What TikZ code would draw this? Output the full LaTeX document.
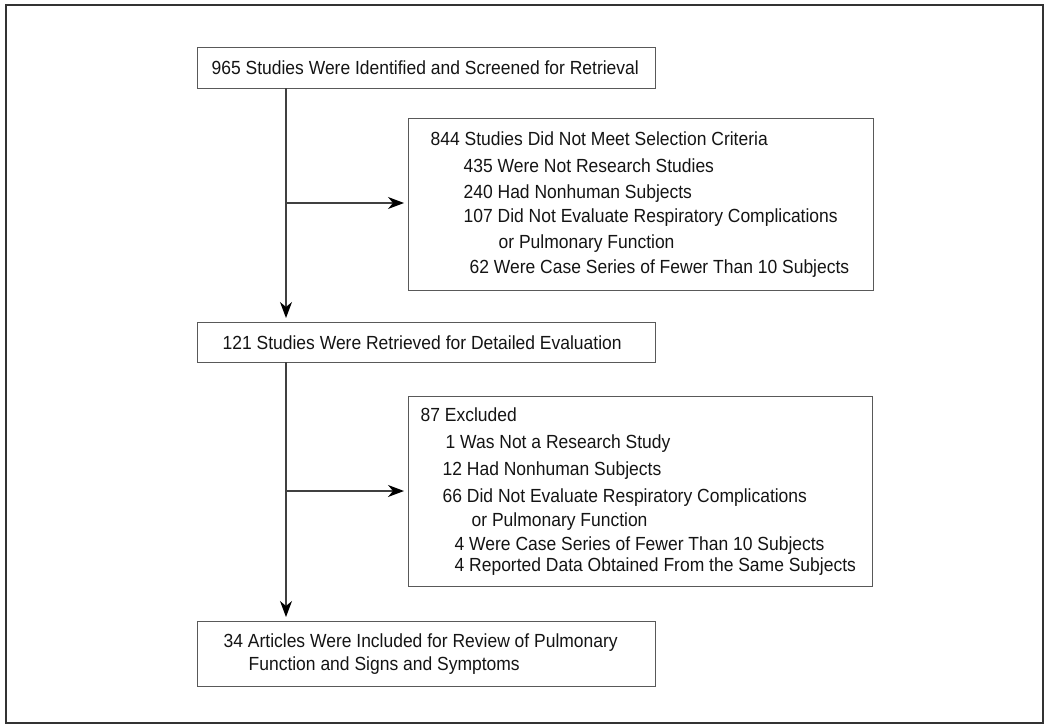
\documentclass[tikz,border=0pt]{standalone}
\usepackage{fontspec}
\setmainfont[FakeStretch=0.92]{Liberation Sans}
\usetikzlibrary{arrows.meta}
\newcommand{\txline}[2][0pt]{\mbox{\hspace*{#1}#2}}
\begin{document}
\begin{tikzpicture}[x=1pt,y=-1pt,
  box/.style={draw=black!65, line width=1.3pt, anchor=north west, align=flush left,
    font=\fontsize{19}{25.4}\selectfont, text=black!92, inner ysep=0pt},
  conn/.style={draw=black!75, line width=1.3pt},
  arr/.style={conn, -{Stealth[length=16pt,width=12pt,inset=5pt,color=black]}, shorten >=4pt}]
\useasboundingbox (0,0) rectangle (1050,728);
\draw[black!80, line width=2.2pt] (6,5) rectangle (1043,723);

\node[box, minimum height=41pt, text width=430pt, inner xsep=14pt] (b1) at (197,47)
  {\txline{965 Studies Were Identified and Screened for Retrieval}};
\node[box, minimum height=172pt, text width=421pt, inner xsep=22pt] (b2) at (408,118)
  {\txline{844 Studies Did Not Meet Selection Criteria}\\[1.5pt]
   \txline[33pt]{435 Were Not Research Studies}\\[0.5pt]
   \txline[33pt]{240 Had Nonhuman Subjects}\\[-1pt]
   \txline[33pt]{107 Did Not Evaluate Respiratory Complications}\\
   \txline[68pt]{or Pulmonary Function}\\
   \txline[39pt]{62 Were Case Series of Fewer Than 10 Subjects}};
\node[box, minimum height=40pt, text width=408pt, inner xsep=25pt] (b3) at (197,322)
  {\txline{121 Studies Were Retrieved for Detailed Evaluation}};
\node[box, minimum height=190pt, text width=440pt, inner xsep=12pt,
  font=\fontsize{19}{24}\selectfont] (b4) at (408,396)
  {\txline{87 Excluded}\\[3pt]
   \txline[25pt]{1 Was Not a Research Study}\\[3pt]
   \txline[22pt]{12 Had Nonhuman Subjects}\\[3pt]
   \txline[22pt]{66 Did Not Evaluate Respiratory Complications}\\
   \txline[51pt]{or Pulmonary Function}\\
   \txline[34pt]{4 Were Case Series of Fewer Than 10 Subjects}\\[-3pt]
   \txline[34pt]{4 Reported Data Obtained From the Same Subjects}};
\node[box, minimum height=65pt, text width=406pt, inner xsep=26pt,
  font=\fontsize{19}{23}\selectfont] (b5) at (197,621)
  {\txline{34 Articles Were Included for Review of Pulmonary}\\
   \txline[25pt]{Function and Signs and Symptoms}};

\coordinate (t1) at (286,88);
\coordinate (j1) at (286,203);
\coordinate (t3) at (286,362);
\coordinate (j2) at (286,491);

\draw[arr] (t1) -- (t1 |- b3.north);
\draw[arr] (j1) -- (j1 -| b2.west);
\draw[arr] (t3) -- (t3 |- b5.north);
\draw[arr] (j2) -- (j2 -| b4.west);
\end{tikzpicture}
\end{document}
